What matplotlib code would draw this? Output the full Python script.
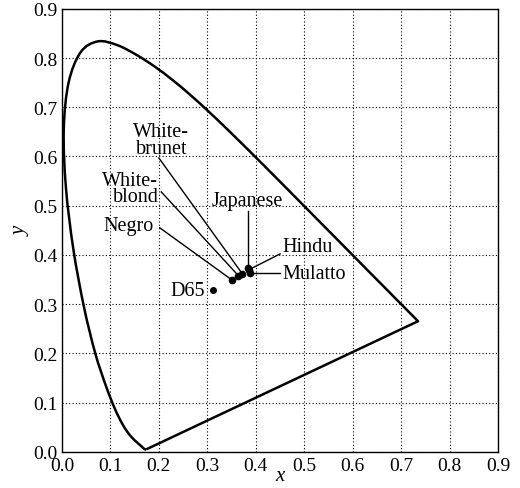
import matplotlib
matplotlib.use("Agg")
import matplotlib.pyplot as plt
import numpy as np
from matplotlib.path import Path
from matplotlib.patches import PathPatch

# CIE 1931 spectral locus, 380-700 nm in 5 nm steps
locus_x = [0.1741, 0.1740, 0.1738, 0.1736, 0.1733, 0.1730, 0.1726, 0.1721, 0.1714, 0.1703,
           0.1689, 0.1669, 0.1644, 0.1611, 0.1566, 0.1510, 0.1440, 0.1355, 0.1241, 0.1096,
           0.0913, 0.0687, 0.0454, 0.0235, 0.0082, 0.0039, 0.0139, 0.0389, 0.0743, 0.1142,
           0.1547, 0.1929, 0.2296, 0.2658, 0.3016, 0.3373, 0.3731, 0.4087, 0.4441, 0.4788,
           0.5125, 0.5448, 0.5752, 0.6029, 0.6270, 0.6482, 0.6658, 0.6801, 0.6915, 0.7006,
           0.7079, 0.7140, 0.7190, 0.7230, 0.7260, 0.7283, 0.7300, 0.7311, 0.7320, 0.7327,
           0.7334, 0.7340, 0.7344, 0.7346, 0.7347]
locus_y = [0.0050, 0.0050, 0.0049, 0.0049, 0.0048, 0.0048, 0.0048, 0.0048, 0.0051, 0.0058,
           0.0069, 0.0086, 0.0109, 0.0138, 0.0177, 0.0227, 0.0297, 0.0399, 0.0578, 0.0868,
           0.1327, 0.2007, 0.2950, 0.4127, 0.5384, 0.6548, 0.7502, 0.8120, 0.8338, 0.8262,
           0.8059, 0.7816, 0.7543, 0.7243, 0.6923, 0.6589, 0.6245, 0.5896, 0.5547, 0.5202,
           0.4866, 0.4544, 0.4242, 0.3965, 0.3725, 0.3514, 0.3340, 0.3197, 0.3083, 0.2993,
           0.2920, 0.2859, 0.2809, 0.2770, 0.2740, 0.2717, 0.2700, 0.2689, 0.2680, 0.2673,
           0.2666, 0.2660, 0.2656, 0.2654, 0.2653]

# skin colour chromaticities
names = ["Negro", "White-\nblond", "White-\nbrunet", "Japanese", "Hindu", "Mulatto"]
skin_x = [0.351, 0.364, 0.372, 0.384, 0.386, 0.388]
skin_y = [0.349, 0.358, 0.362, 0.373, 0.370, 0.363]
# end of each leader line and where its label sits
lead_x = [0.202, 0.205, 0.200, 0.384, 0.450, 0.449]
lead_y = [0.455, 0.528, 0.597, 0.490, 0.402, 0.363]
text_x = [0.190, 0.199, 0.205, 0.383, 0.455, 0.455]
text_y = [0.459, 0.535, 0.597, 0.492, 0.417, 0.362]
text_ha = ["right", "right", "center", "center", "left", "left"]
text_va = ["center", "center", "bottom", "bottom", "center", "center"]

d65_x, d65_y = 0.3127, 0.3290


def smooth_path(xs, ys):
    # Catmull-Rom through the points, drawn as cubic Bezier segments
    p = np.column_stack([xs, ys])
    verts = [p[0]]
    codes = [Path.MOVETO]
    n = len(p)
    for i in range(n - 1):
        p0 = p[max(i - 1, 0)]
        p1 = p[i]
        p2 = p[i + 1]
        p3 = p[min(i + 2, n - 1)]
        verts += [p1 + (p2 - p0) / 6, p2 - (p3 - p1) / 6, p2]
        codes += [Path.CURVE4] * 3
    verts.append(p[0])
    codes.append(Path.LINETO)
    return Path(verts, codes)


plt.rcParams["font.family"] = ["Liberation Serif", "DejaVu Serif"]

fig = plt.figure(figsize=(5.2, 4.89), dpi=100)
ax = fig.add_axes([0.119, 0.074, 0.839, 0.906])

ax.add_patch(PathPatch(smooth_path(locus_x, locus_y), facecolor="none",
                       edgecolor="black", lw=1.8, joinstyle="round"))

for i in range(len(names)):
    ax.plot([skin_x[i], lead_x[i]], [skin_y[i], lead_y[i]], color="black", lw=1.0)
    ax.text(text_x[i], text_y[i], names[i], ha=text_ha[i], va=text_va[i],
            fontsize=14.5, linespacing=0.85)
ax.plot(skin_x, skin_y, "o", color="black", ms=4.5)

ax.plot([d65_x], [d65_y], "o", color="black", ms=4)
ax.text(d65_x - 0.017, d65_y - 0.002, "D65", ha="right", va="center", fontsize=14.5)

ax.set_xlim(0, 0.9)
ax.set_ylim(0, 0.9)
ticks = [i / 10 for i in range(10)]
ax.set_xticks(ticks)
ax.set_yticks(ticks)
ax.set_xticklabels([f"{t:.1f}" for t in ticks], fontsize=14)
ax.set_yticklabels([f"{t:.1f}" for t in ticks], fontsize=14)
ax.tick_params(axis="x", length=0, pad=4)
ax.tick_params(axis="y", length=0, pad=3)
ax.grid(True, color="black", linestyle=(0, (1, 2)), linewidth=0.8)
ax.set_xlabel("x", fontsize=15, style="italic", labelpad=-6)
ax.set_ylabel("y", fontsize=15, style="italic", labelpad=2)
for s in ax.spines.values():
    s.set_linewidth(1.0)

fig.savefig("out.png", dpi=100)
